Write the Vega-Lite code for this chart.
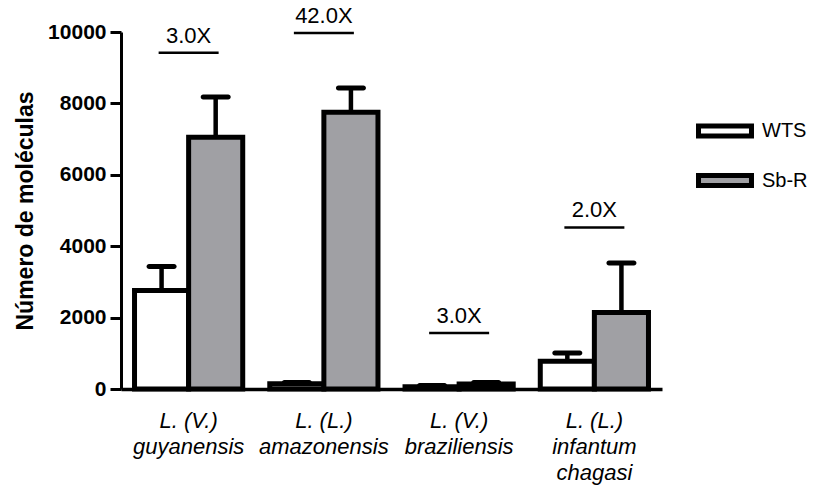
{
  "$schema": "https://vega.github.io/schema/vega-lite/v6.json",
  "width": 541,
  "height": 357,
  "autosize": {"type": "none"},
  "padding": {"left": 121, "top": 32, "right": 155, "bottom": 100},
  "config": {"font": "Liberation Sans", "view": {"stroke": null}},
  "datasets": {
    "bars": [
      {"species": "L. (V.)|guyanensis", "group": "WTS", "value": 2760, "upper": 3430},
      {"species": "L. (V.)|guyanensis", "group": "Sb-R", "value": 7050, "upper": 8180},
      {"species": "L. (L.)|amazonensis", "group": "WTS", "value": 150, "upper": 180},
      {"species": "L. (L.)|amazonensis", "group": "Sb-R", "value": 7750, "upper": 8430},
      {"species": "L. (V.)|braziliensis", "group": "WTS", "value": 60, "upper": 100},
      {"species": "L. (V.)|braziliensis", "group": "Sb-R", "value": 140, "upper": 180},
      {"species": "L. (L.)|infantum|chagasi", "group": "WTS", "value": 775, "upper": 1008},
      {"species": "L. (L.)|infantum|chagasi", "group": "Sb-R", "value": 2145, "upper": 3530}
    ],
    "annot": [
      {"species": "L. (V.)|guyanensis", "pos": 9420, "label": "3.0X"},
      {"species": "L. (L.)|amazonensis", "pos": 9972, "label": "42.0X"},
      {"species": "L. (V.)|braziliensis", "pos": 1568, "label": "3.0X"},
      {"species": "L. (L.)|infantum|chagasi", "pos": 4527, "label": "2.0X"}
    ]
  },
  "layer": [
    {
      "data": {"name": "bars"},
      "mark": {"type": "bar", "stroke": "black", "strokeWidth": 5, "strokeJoin": "miter"},
      "encoding": {
        "x": {
          "field": "species", "type": "nominal", "sort": null,
          "scale": {"paddingInner": 0.2, "paddingOuter": 0.1},
          "axis": {
            "title": null, "labelAngle": 0, "ticks": false,
            "domainColor": "black", "domainWidth": 3.5,
            "labelFontSize": 22, "labelFontStyle": "italic", "labelColor": "black",
            "labelPadding": 21, "labelLineHeight": 26,
            "labelExpr": "split(datum.label, '|')"
          }
        },
        "xOffset": {"field": "group", "type": "nominal", "sort": ["WTS", "Sb-R"]},
        "y": {
          "field": "value", "type": "quantitative",
          "scale": {"domain": [0, 10000], "nice": false},
          "axis": {
            "title": "Número de moléculas", "titleFontSize": 23, "titleFontWeight": "bold",
            "titleColor": "black", "titlePadding": 10, "format": "d",
            "values": [0, 2000, 4000, 6000, 8000, 10000], "grid": false,
            "domainColor": "black", "domainWidth": 3, "tickColor": "black", "tickWidth": 3,
            "tickSize": 11, "labelFontSize": 21, "labelFontWeight": "bold", "labelColor": "black",
            "labelPadding": 4
          }
        },
        "fill": {
          "field": "group", "type": "nominal",
          "scale": {"domain": ["WTS", "Sb-R"], "range": ["white", "#a0a0a4"]},
          "legend": {
            "title": null, "orient": "none", "legendX": 588, "legendY": 83,
            "padding": 0, "symbolType": "M-2,-0.37H2V0.37H-2Z", "symbolSize": 702,
            "symbolStrokeColor": "black", "symbolStrokeWidth": 5, "symbolOpacity": 1,
            "labelFontSize": 20, "labelColor": "black", "labelOffset": 21, "rowPadding": 18.5
          }
        }
      }
    },
    {
      "data": {"name": "bars"},
      "mark": {"type": "rule", "stroke": "black", "strokeWidth": 4.5},
      "encoding": {
        "x": {"field": "species", "type": "nominal", "sort": null},
        "xOffset": {"field": "group", "type": "nominal", "sort": ["WTS", "Sb-R"]},
        "y": {"field": "value", "type": "quantitative", "title": "Número de moléculas"},
        "y2": {"field": "upper"}
      }
    },
    {
      "data": {"name": "bars"},
      "mark": {"type": "tick", "color": "black", "size": 30, "thickness": 5, "cornerRadius": 2.5, "opacity": 1},
      "encoding": {
        "x": {"field": "species", "type": "nominal", "sort": null},
        "xOffset": {"field": "group", "type": "nominal", "sort": ["WTS", "Sb-R"]},
        "y": {"field": "upper", "type": "quantitative", "title": "Número de moléculas"}
      }
    },
    {
      "data": {"name": "annot"},
      "mark": {"type": "tick", "color": "black", "size": 60, "thickness": 2.5, "opacity": 1},
      "encoding": {
        "x": {"field": "species", "type": "nominal", "sort": null},
        "y": {"field": "pos", "type": "quantitative", "title": "Número de moléculas"}
      }
    },
    {
      "data": {"name": "annot"},
      "mark": {"type": "text", "color": "black", "fontSize": 22, "baseline": "bottom", "dy": -5},
      "encoding": {
        "x": {"field": "species", "type": "nominal", "sort": null},
        "y": {"field": "pos", "type": "quantitative", "title": "Número de moléculas"},
        "text": {"field": "label"}
      }
    }
  ]
}
